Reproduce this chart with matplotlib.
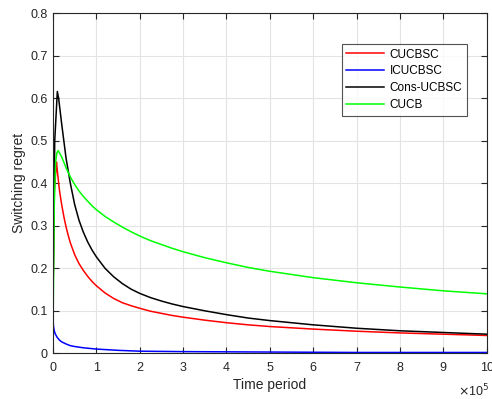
import matplotlib
matplotlib.use("Agg")
import matplotlib.pyplot as plt

plt.rcParams['font.family'] = ['Liberation Sans', 'DejaVu Sans']

# time in units of 1e5
cucbsc_x = [0, 0.03, 0.08, 0.1, 0.12, 0.15, 0.2, 0.25, 0.3, 0.35, 0.4, 0.5, 0.6, 0.7, 0.8, 0.9, 1.0,
            1.2, 1.4, 1.6, 1.8, 2.0, 2.25, 2.5, 2.75, 3, 3.5, 4, 4.5, 5, 6, 7, 8, 9, 10]
cucbsc_y = [0.13, 0.38, 0.45, 0.43, 0.41, 0.383, 0.35, 0.322, 0.298, 0.278, 0.26, 0.232, 0.211, 0.195,
            0.181, 0.169, 0.159, 0.142, 0.129, 0.119, 0.112, 0.106, 0.099, 0.094, 0.089, 0.085, 0.078,
            0.072, 0.067, 0.063, 0.057, 0.052, 0.048, 0.045, 0.042]

icucbsc_x = [0, 0.005, 0.01, 0.02, 0.03, 0.05, 0.1, 0.15, 0.2, 0.3, 0.4, 0.5, 0.7, 1.0, 1.5, 2, 3, 5, 7, 10]
icucbsc_y = [0.098, 0.075, 0.065, 0.058, 0.053, 0.046, 0.037, 0.031, 0.027, 0.022, 0.018, 0.016, 0.013,
             0.010, 0.007, 0.005, 0.004, 0.003, 0.002, 0.002]

cons_x = [0, 0.04, 0.1, 0.13, 0.2, 0.3, 0.4, 0.5, 0.6, 0.7, 0.8, 0.9, 1.0, 1.2, 1.4, 1.6, 1.8, 2.0,
          2.25, 2.5, 2.75, 3, 3.5, 4, 4.5, 5, 6, 7, 8, 9, 10]
cons_y = [0.12, 0.5, 0.616, 0.6, 0.54, 0.46, 0.40, 0.35, 0.313, 0.285, 0.262, 0.243, 0.227, 0.2, 0.18,
          0.164, 0.151, 0.141, 0.131, 0.123, 0.116, 0.11, 0.1, 0.091, 0.083, 0.077, 0.067, 0.059,
          0.053, 0.049, 0.045]

cucb_x = [0, 0.005, 0.03, 0.06, 0.09, 0.12, 0.2, 0.3, 0.4, 0.5, 0.6, 0.7, 0.8, 0.9, 1.0, 1.2, 1.4, 1.6,
          1.8, 2.0, 2.25, 2.5, 2.75, 3, 3.5, 4, 4.5, 5, 6, 7, 8, 9, 10]
cucb_y = [1.0, 0.1, 0.35, 0.45, 0.472, 0.477, 0.462, 0.437, 0.415, 0.397, 0.382, 0.369, 0.358, 0.347,
          0.338, 0.322, 0.309, 0.297, 0.286, 0.276, 0.265, 0.256, 0.247, 0.239, 0.225, 0.213, 0.202,
          0.193, 0.178, 0.166, 0.156, 0.147, 0.14]

labels = ['CUCBSC', 'ICUCBSC', 'Cons-UCBSC', 'CUCB']
x_ticks = list(range(0, 11))
y_ticks = [0, 0.1, 0.2, 0.3, 0.4, 0.5, 0.6, 0.7, 0.8]

fig = plt.figure(figsize=(4.92, 3.99), dpi=100)
ax = fig.add_axes([0.1077, 0.1145, 0.8815, 0.8522])

ax.plot(cucbsc_x, cucbsc_y, color='#ff0000', lw=1.1, label=labels[0])
ax.plot(icucbsc_x, icucbsc_y, color='#0000ff', lw=1.1, label=labels[1])
ax.plot(cons_x, cons_y, color='#000000', lw=1.1, label=labels[2])
ax.plot(cucb_x, cucb_y, color='#00ff00', lw=1.1, label=labels[3])

ax.set_xlim(0, 10)
ax.set_ylim(0, 0.8)
ax.set_xticks(x_ticks)
ax.set_xticklabels([str(t) for t in x_ticks])
ax.set_yticks(y_ticks)
ax.set_yticklabels(['0'] + ['%.1f' % t for t in y_ticks[1:]])

ax.grid(True, color='#e3e3e3', lw=0.8)
ax.set_axisbelow(True)
for s in ax.spines.values():
    s.set_color('#262626')
    s.set_linewidth(0.8)
ax.tick_params(direction='in', top=True, right=True, length=4, width=0.8,
               colors='#262626', labelsize=9)
ax.tick_params(axis='x', pad=6)
ax.tick_params(axis='y', pad=4)

ax.set_xlabel('Time period', fontsize=10, color='#262626', labelpad=3)
ax.set_ylabel('Switching regret', fontsize=10, color='#262626', labelpad=3)

ax.text(1.005, -0.085, r'$\times$10$^5$', transform=ax.transAxes, ha='right', va='top',
        fontsize=9, color='#262626')

leg = ax.legend(loc='upper right', bbox_to_anchor=(0.954, 0.91), fontsize=8.5,
                frameon=True, fancybox=False, edgecolor='#262626', handlelength=3.2,
                borderpad=0.4, labelspacing=0.4, handletextpad=0.45, borderaxespad=0)
leg.get_frame().set_linewidth(0.8)

fig.savefig('out.png', dpi=100)
